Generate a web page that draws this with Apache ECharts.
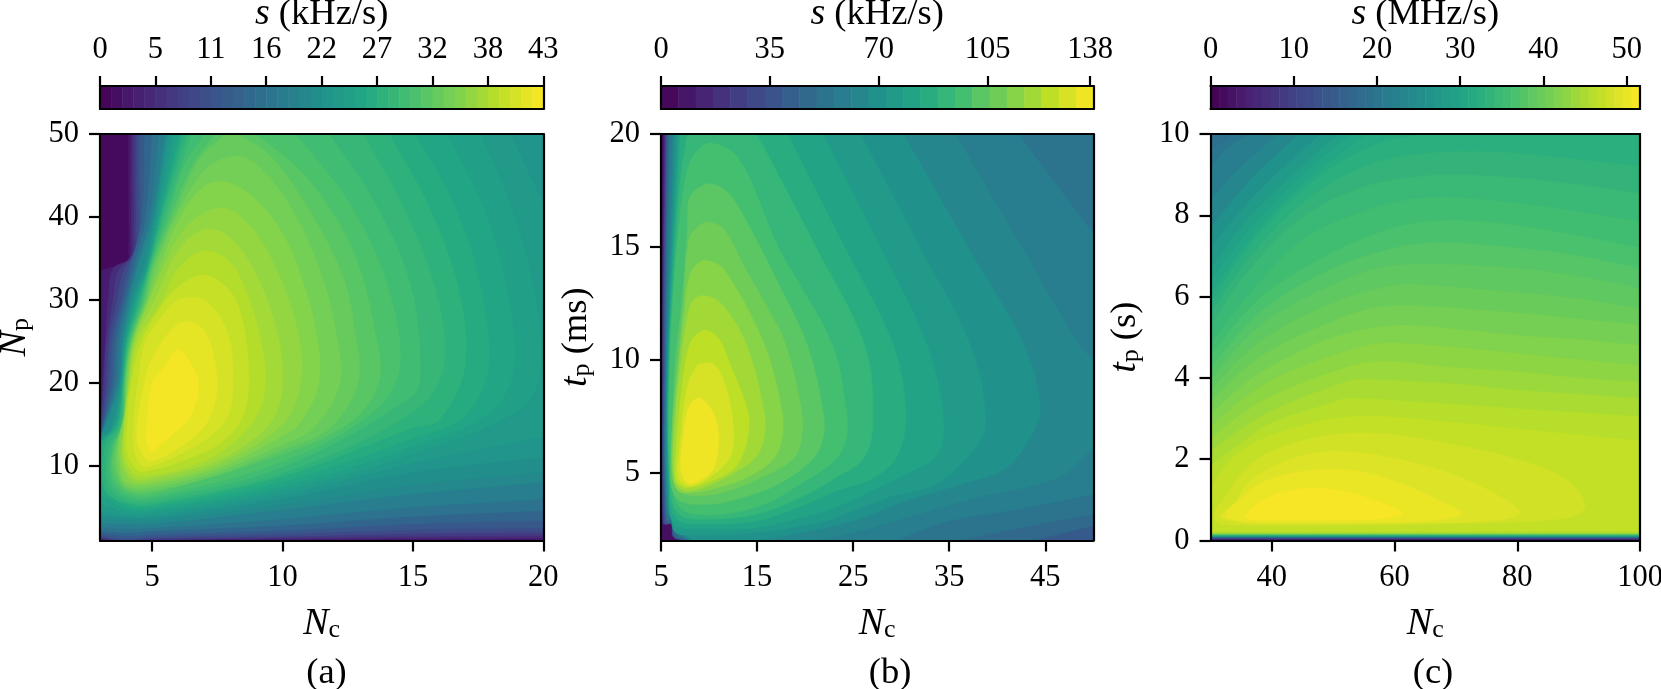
<!DOCTYPE html>
<html><head><meta charset="utf-8">
<style>html,body{margin:0;padding:0;background:#fff}#c{width:1661px;height:689px}</style>
<script src="https://cdn.jsdelivr.net/npm/echarts@6/dist/echarts.min.js"></script>
</head><body><div id="c"></div>
<script>
const viridisStops=['#440154','#482475','#414487','#355f8d','#2a788e','#21918c','#22a884','#44bf70','#7ad151','#bddf26','#fde725'];

const maxA=43, maxB=139, maxC=51.6;
const cbarBandsA=40, cbarBandsB=25, cbarBandsC=50;
const cbarTicksA=[0,5.375,10.75,16.125,21.5,26.875,32.25,37.625,43];
const cbarLabelsA=['0','5','11','16','22','27','32','38','43'];
const cbarTicksB=[0,35,70,105,138];
const cbarLabelsB=['0','35','70','105','138'];
const cbarTicksC=[0,10,20,30,40,50];
const cbarLabelsC=['0','10','20','30','40','50'];
const xTicksA=[5,10,15,20], yTicksA=[10,20,30,40,50];
const xTicksB=[5,15,25,35,45], yTicksB=[5,10,15,20];
const xTicksC=[40,60,80,100], yTicksC=[0,2,4,6,8,10];

// Panel (a): s (kHz/s) iso-contours; each entry is the outline of the region s >= level, [Nc, Np]
const levelsA=[2.15,4.3,6.45,8.6,10.75,12.9,15.05,17.2,19.35,20.4,21.5,22.6,23.65,24.7,25.8,26.9,28,29,30.1,31.2,32.25,33.3,34.4,35.5,36.5,37.6,38.7,39.8,40.9,41.9];
const contoursA=[
[[4.1,50],[20,50],[20,1.1],[15,1.1],[10,1.05],[3,1],[3,33.5],[3.6,34.1],[4.05,34.6],[4.1,36],[4.1,42]],
[[4.2,50],[20,50],[20,1.3],[15,1.25],[10,1.15],[5,1.05],[3.3,1],[3,1.15],[3,13.8],[3.1,20],[3.2,25],[3.3,30],[3.5,33.8],[4.15,35],[4.2,37],[4.2,43]],
[[4.3,50],[20,50],[20,1.6],[15,1.5],[10,1.3],[5,1.1],[3.5,1],[3,1.3],[3,13.7],[3.15,20],[3.25,25],[3.5,30],[3.7,33.5],[4.25,35.5],[4.3,38],[4.3,44]],
[[4.4,50],[20,50],[20,2],[15,1.85],[10,1.5],[5,1.2],[3.8,1],[3,1.4],[3,13.6],[3.25,20],[3.35,25],[3.65,30],[3.9,33.5],[4.35,36],[4.4,39],[4.4,44]],
[[4.5,50],[20,50],[20,2.5],[15,2.3],[10,1.8],[5,1.4],[4,1.1],[3,1.6],[3,13.5],[3.35,20],[3.45,25],[3.8,30],[4.1,34],[4.5,38],[4.5,44]],
[[4.7,50],[20,50],[20,3.4],[15,3],[10,2.2],[5,1.7],[4,1.5],[3,1.9],[3,13.4],[3.45,20],[3.55,25],[3.9,30],[4.2,34],[4.6,40]],
[[5,50],[20,50],[20,4.6],[15,3.9],[10,2.8],[5,2.1],[4,1.9],[3,2.1],[3,13.3],[3.55,20],[3.65,25],[4,30],[4.3,34],[4.75,40]],
[[5.25,50],[20,50],[20,6],[15,5],[10,3.6],[5,2.5],[4,2.4],[3,2.6],[3,13.2],[3.65,20],[3.75,25],[4.07,30],[4.4,34],[4.9,40]],
[[5.5,50],[20,50],[20,8],[15,6.6],[10,4.7],[5,3],[4,3],[3,3.1],[3,13.1],[3.72,20],[3.85,25],[4.15,30],[4.45,34],[5,40]],
[[5.55,50],[20,50],[20,9.2],[15,7.7],[10,5.3],[5,3.35],[4,3.4],[3,3.6],[3,13],[3.75,20],[3.87,25],[4.2,30],[4.6,34],[5.05,40]],
[[5.6,50],[20,50],[20,11],[15,9.2],[10,6],[5,3.7],[4,3.7],[3,4],[3,13],[3.4,14.5],[3.78,20],[3.9,25],[4.25,30],[4.7,34],[5.1,40]],
[[5.7,50],[18.75,50],[20,41.7],[20,13.5],[15,10.3],[10,6.5],[5,4],[4,4],[3,4.6],[3,13],[3.5,15],[3.8,20],[3.93,25],[4.3,30],[4.75,34],[5.15,40]],
[[5.85,50],[17.6,50],[18.8,41],[19.6,32],[19.9,22],[19.2,17],[15,11.4],[10,7],[5,4.4],[4,4.4],[3,5.4],[3,12.8],[3.55,15],[3.82,20],[3.96,25],[4.35,30],[4.8,34],[5.2,40]],
[[6,50],[16.3,50],[17.6,42],[18.5,33],[18.9,22],[18,16.5],[15,12.3],[10,7.5],[5,4.7],[4,4.8],[3,6.5],[3,12.5],[3.6,15],[3.85,20],[3.99,25],[4.4,30],[4.82,34],[5.25,40]],
[[6.1,50],[15.1,50],[16.5,42],[17.5,33],[17.9,22],[17,16],[15,13.3],[10,8.1],[5,5],[4,5.2],[3.05,7.5],[3.05,12.5],[3.65,15],[3.87,20],[4.02,25],[4.45,30],[4.85,34],[5.3,40]],
[[6.2,50],[14.1,50],[15.5,42],[16.7,32],[17,22],[16,15.5],[15,14.6],[10,8.7],[5,5.3],[4,5.5],[3.2,7],[3.2,12.5],[3.7,15],[3.88,20],[4.05,25],[4.5,30],[4.87,34],[5.35,40]],
[[6.35,50],[13.1,50],[14.5,42],[15.8,32],[16.2,22],[15,16.5],[10,9.1],[5,5.6],[4,5.8],[3.3,7.5],[3.3,12],[3.75,15],[3.9,20],[4.08,25],[4.55,30],[4.9,34],[5.4,40]],
[[6.5,50],[11.8,50],[13.5,42],[14.9,32],[15.3,22],[15,18.5],[10,9.8],[5,6],[4,6.2],[3.4,8],[3.4,12],[3.8,15],[3.92,20],[4.11,25],[4.6,30],[4.92,34],[5.5,40]],
[[7,50],[10.5,50],[12.5,42],[14,32],[14.5,22],[13.5,16.5],[10,10.5],[5,6.3],[4,6.6],[3.47,8.5],[3.47,12],[3.85,15],[3.94,20],[4.14,25],[4.65,30],[4.95,34],[5.6,40],[6.2,46]],
[[7.4,50],[9,50],[11,44.5],[12.7,36],[13.5,27],[13.7,20],[12.5,15],[10,11.4],[5,6.7],[4,7],[3.53,9],[3.53,12],[3.9,15.5],[3.96,20],[4.17,25],[4.7,30],[5,34],[5.7,40],[6.5,46]],
[[7.8,50],[8.3,50],[9.5,47.5],[11,41],[12.3,33],[12.8,26],[12.9,20],[11.8,14.5],[10,11.9],[7.5,8.9],[5,7],[4,7.3],[3.6,9.5],[3.6,12],[3.92,16],[3.98,20],[4.2,25],[4.75,30],[5.05,34],[5.8,40],[6.8,47]],
[[7.9,47.2],[8.7,47],[9.7,44],[10.7,39],[11.5,33],[12,27],[12.2,20],[11.2,14.6],[10,12.6],[7.5,9.3],[5,7.4],[4,7.6],[3.67,10],[3.67,12.5],[3.95,16.5],[4,20],[4.23,25],[4.8,30],[5.15,34],[5.9,40],[7,45.6]],
[[7.9,44.2],[9,42],[10,38],[10.7,33],[11.3,26],[11.4,20],[10.7,15.3],[10,13.6],[7.5,9.7],[5,7.8],[4,8],[3.75,10.5],[3.75,13],[4,17],[4.05,20],[4.27,25],[4.85,30],[5.3,34],[6,39.5],[7,43.7]],
[[7.9,41],[9,38],[10,32],[10.6,26],[10.7,20],[10,15],[7.5,10.2],[5,8.1],[4.2,8.2],[3.82,10.5],[3.85,13.5],[4.05,18],[4.1,20],[4.3,25],[4.9,30],[5.5,34.5],[6.1,38],[7,40.5]],
[[7,38.5],[8,37.5],[9,33],[9.8,26],[10,20],[9.7,16],[9,13.5],[7.5,10.6],[5,8.5],[4.3,8.5],[3.9,10.5],[3.9,14],[4.1,20],[4.35,25],[5.1,30],[6,36]],
[[7,35.9],[8,34.5],[8.6,31],[9.1,26],[9.35,20],[8.9,15.5],[7.5,11.4],[6,9.5],[5,8.9],[4.4,8.9],[3.95,11],[3.95,15],[4.15,20],[4.45,25],[5.4,30],[6,33.8]],
[[6,31.6],[7,33],[8,31],[8.5,27],[8.7,20],[8.4,15.5],[7.5,12.5],[6,10.4],[5,9.5],[4.5,9.4],[4.05,11.5],[4.05,15],[4.2,20],[4.6,25],[5.3,29]],
[[6,30],[7,30],[7.9,26],[8.1,20],[7.9,16],[7.2,13.5],[6,11.3],[5,10],[4.6,10],[4.3,12],[4.3,16],[4.5,21],[4.75,25],[5.5,28.5]],
[[6.05,27.2],[7,26.3],[7.5,20],[7.2,15.8],[6.5,13.2],[5,10.6],[4.55,11.8],[4.4,14.2],[4.7,20],[5,23]],
[[6,24],[6.7,21],[6.75,18.5],[6.4,15.6],[6,14.4],[5.3,12.5],[5,11.6],[4.8,12.8],[4.8,15],[5,20],[5.5,22]]
];

// Panel (b): s (kHz/s) contours, [Nc, tp in ms]
const levelsB=[11.1,22.2,33.4,44.5,50,55.6,61.2,66.7,72.3,77.8,83.4,89,94.5,100.1,105.6,111.2,116.8,122.3,127.9,133.4];
const contoursB=[
[[5.3,20],[50,20],[50,2],[7,2],[6.2,2.3],[6.05,2.75],[5.15,2.75],[5.1,10]],
[[5.45,20],[50,20],[50,2],[7.3,2],[6.25,2.2],[6.1,2.72],[5.25,2.75],[5.2,10]],
[[5.55,20],[50,20],[50,2],[7.5,2],[6.3,2.15],[6.15,2.7],[5.4,2.8],[5.3,10]],
[[5.7,20],[50,20],[50,2.65],[43.7,2],[7.7,2],[6.4,2.2],[6.2,2.7],[5.5,2.9],[5.4,10]],
[[5.8,20],[50,20],[50,3.16],[42.2,2.54],[36,2],[7.8,2],[6.5,2.3],[6.3,2.8],[5.55,3],[5.45,10]],
[[6,20],[42.2,20],[50,15.6],[50,4.04],[42.2,3.38],[34.4,2.79],[29.5,2],[7.9,2],[6.6,2.4],[6.4,2.9],[5.6,3.2],[5.5,10]],
[[6.2,20],[35.67,20],[42.56,15],[48.5,10.7],[50,10],[50,6.1],[46.4,4.78],[38,3.9],[30.5,3],[23,2.13],[19.4,2],[8.1,2],[6.8,2.4],[6.5,3],[5.65,3.4],[5.6,10]],
[[6.4,20],[30.26,20],[36.97,15],[42.74,10.7],[44.5,8],[43.9,6.91],[41,5.22],[36.3,4.49],[30.5,3.75],[25,2.87],[17.7,2.18],[14.5,2],[8.2,2],[7,2.5],[6.6,3.2],[5.7,3.6],[5.65,10]],
[[6.6,20],[25.79,20],[31.94,15],[37.16,10.7],[38.8,7.13],[37,5.74],[33.6,4.49],[28.7,3.9],[23.2,3.01],[19.5,2.63],[15,2.35],[9.4,2.22],[6.4,2.4],[6.2,3.6],[5.75,4],[5.7,10]],
[[6.8,20],[21.88,20],[27.84,15],[32.68,10.7],[34.4,7.5],[33.8,5.81],[30.5,4.93],[27,4.2],[23.2,3.46],[19.5,3],[15,2.57],[10.1,2.5],[6.4,2.72],[5.8,4.2],[5.75,10]],
[[7,20],[18.15,20],[24.11,15],[29.14,10.7],[30.5,7.5],[29.5,5.66],[27,4.75],[23.2,4.19],[19.5,3.5],[15,2.87],[10.1,2.72],[6.6,2.94],[5.85,4.4],[5.8,10]],
[[7.72,20],[15,20],[21.13,15],[26.16,10.7],[27.1,7.4],[26.16,5.66],[23.2,4.78],[19.5,3.9],[15,3.16],[10.1,2.94],[6.8,3.16],[5.9,4.6],[5.85,10],[6.5,15],[7,18]],
[[8.84,19.3],[10.33,19.6],[13.12,18.9],[17.22,15],[22.81,10.7],[24.3,7.72],[24.3,6.54],[23.2,5.59],[19.46,4.49],[15.73,3.6],[11.26,3.16],[7.16,3.38],[6,4.8],[5.95,10],[6.23,12.6],[6.79,15.6],[7.72,18.4]],
[[8.84,17.6],[10.14,17.8],[12,17.4],[14.2,15.9],[17.2,13.4],[20.2,10.7],[21.88,7.72],[21.88,6.54],[20.76,5.59],[17.2,4.49],[13.5,3.9],[10.14,3.6],[6.97,3.75],[6.04,4.49],[6.1,6],[6.5,10],[7.16,12.6],[7.72,15.6],[7.9,17.1]],
[[8.84,15.9],[10,16.1],[11.63,15.74],[13.5,14.26],[15.7,12.6],[17.97,10.7],[19.64,7.72],[19.64,6.54],[18.7,5.59],[15.36,4.78],[12,4.19],[9,3.97],[7.16,4.12],[6.2,4.78],[6.15,7],[6.75,10],[7.35,12.6],[7.9,15.3]],
[[8.65,14.2],[9.77,14.4],[11.63,13.96],[15.73,10.7],[17.6,7.72],[17.6,6.54],[16.66,5.59],[13.87,4.78],[10.89,4.34],[8.28,4.12],[6.8,4.19],[6.23,4.93],[6.3,7],[6.9,10],[7.4,12],[7.9,13.6]],
[[8.28,12.6],[9.4,12.85],[11.26,12.5],[13.87,10.7],[15.73,7.72],[15.73,6.54],[14.8,5.66],[12.38,4.93],[9.77,4.4],[7.53,4.19],[6.42,4.63],[6.42,7],[7.1,10],[7.72,11.8]],
[[8.1,10.8],[9.4,11.3],[10.9,11],[12,10],[14.05,7.72],[14.05,6.6],[13.3,5.6],[12.4,5.1],[9.8,4.55],[7.5,4.35],[6.55,4.7],[6.6,6.2],[7.3,9.2]],
[[8.7,9.7],[9.4,9.85],[10.5,9.8],[11.6,9],[12.45,7.4],[12.3,5.8],[10.1,4.8],[7.9,4.4],[6.8,4.8],[6.95,6.2],[7.7,8.75]],
[[9,8.3],[10.5,7.6],[11,6.5],[10.5,5.2],[9.2,4.7],[7.9,4.5],[7.1,5.05],[7.2,6.2],[7.9,7.9]]
];

// Panel (c): s (MHz/s) contours, [Nc, tp in s]
const levelsC=[5.2,10.3,15.5,18.6,19.6,20.6,22.7,24.8,26.8,28.9,29.9,31,32,33,34,35.1,36.1,37.2,38.2,39.2,40.2,41.3,42.3,43.3,44.4,45.4,46.4,47.5,48.5,49.5,50.6];
const contoursC=[
[[30,10],[100,10],[100,.03],[30,.03]],
[[30,10],[100,10],[100,.05],[30,.05]],
[[30,10],[100,10],[100,.07],[30,.07]],
[[30,10],[100,10],[100,.08],[30,.08]],
[[33.5,10],[100,10],[100,.085],[30,.085],[30,9.6]],
[[36.5,10],[100,10],[100,.09],[30,.09],[30,9.2],[33,9.7]],
[[41,10],[100,10],[100,.095],[30,.095],[30,8.4],[35,9.2]],
[[44.5,10],[100,10],[100,.1],[30,.1],[30,7.7],[36,8.8],[40,9.4]],
[[48,10],[100,10],[100,.105],[30,.105],[30,7.2],[36,8.3],[42,9.2]],
[[51,10],[100,10],[100,.11],[30,.11],[30,6.7],[36,7.9],[42,8.8],[47,9.5]],
[[53,10],[100,10],[100,.115],[30,.115],[30,6.4],[36,7.6],[42,8.55],[48,9.4]],
[[55.5,10],[100,10],[100,.12],[30,.12],[30,6.1],[38,7.7],[46,8.9],[51,9.5]],
[[64,10],[100,10],[100,.125],[30,.125],[30,5.85],[36,7.2],[44,8.5],[52,9.4],[58,9.8]],
[[30,5.6],[36,6.9],[45,8.3],[55,9.2],[65,9.52],[75,9.57],[85,9.45],[100,9.2],[100,.13],[30,.13]],
[[30,5.3],[36,6.6],[45,7.95],[55,8.7],[65,8.97],[72,8.99],[85,8.85],[100,8.54],[100,.135],[30,.135]],
[[30,4.85],[36,6],[45,7.4],[55,8.1],[63,8.4],[70,8.44],[85,8.2],[100,7.85],[100,.14],[30,.14]],
[[30,4.55],[35,5.5],[40,6.2],[50,7.1],[60,7.7],[68.9,7.88],[80,7.75],[90,7.5],[100,7.2],[100,.145],[30,.145]],
[[30,4.25],[35,5.15],[40,5.85],[50,6.7],[60,7.2],[67,7.33],[80,7.2],[90,7],[100,6.7],[100,.15],[30,.15]],
[[30,3.95],[35,4.85],[40,5.5],[50,6.3],[58,6.72],[65,6.81],[80,6.7],[90,6.5],[100,6.2],[100,.155],[30,.155]],
[[30,3.7],[35,4.5],[40,5.1],[50,5.85],[58,6.22],[63,6.3],[80,6.1],[90,5.95],[100,5.7],[100,.16],[30,.16]],
[[30,3.4],[35,4.15],[40,4.7],[50,5.4],[56,5.7],[62,5.78],[80,5.6],[90,5.45],[100,5.3],[100,.165],[30,.165]],
[[30,3.1],[35,3.8],[40,4.3],[50,5],[60,5.29],[70,5.2],[80,5.05],[90,4.95],[100,4.8],[100,.17],[30,.17]],
[[30,2.8],[35,3.45],[40,3.95],[50,4.55],[58,4.85],[70,4.75],[80,4.6],[90,4.45],[100,4.3],[100,.175],[30,.175]],
[[30,2.5],[35,3.1],[40,3.55],[50,4.15],[57,4.4],[70,4.25],[80,4.15],[90,4],[100,3.9],[100,.18],[30,.18]],
[[30,2.2],[35,2.75],[40,3.2],[50,3.8],[54,3.96],[70,3.85],[80,3.7],[90,3.6],[100,3.5],[100,.19],[30,.19]],
[[30,1.85],[35,2.4],[40,2.9],[50,3.4],[52,3.5],[65,3.4],[80,3.25],[90,3.15],[100,3.05],[100,.2],[30,.2]],
[[30,1.3],[33,1.95],[36,2.3],[40,2.6],[50,3],[58,3.05],[70,2.9],[80,2.75],[90,2.6],[100,2.45],[100,.23],[30,.22]],
[[30.6,.7],[32,1],[36,1.8],[40,2.2],[46,2.5],[52,2.64],[60,2.6],[70,2.35],[80,2],[88,1.5],[91.1,.85],[88,.55],[70,.42],[50,.38],[36,.37],[31,.45]],
[[31.5,.6],[34,.95],[36,1.4],[40,1.8],[44,2.05],[49,2.19],[55,2.15],[62,1.95],[70,1.6],[77,1.1],[80.4,.7],[77,.5],[60,.42],[45,.4],[36,.42],[33,.5]],
[[32.4,.6],[35,1.05],[38,1.4],[43,1.65],[49,1.76],[55,1.68],[62,1.35],[67,1],[70.9,.67],[67,.5],[55,.45],[43,.45],[36,.47]],
[[35.6,.6],[38,.95],[42,1.2],[47,1.29],[52,1.2],[57,.98],[61.3,.67],[57,.52],[48,.5],[40,.5],[36.3,.52]]
];

function hex(c){return [1,3,5].map(i=>parseInt(c.substr(i,2),16));}
function viridis(f){
  f=Math.max(0,Math.min(1,f));
  const p=f*(viridisStops.length-1), i=Math.min(viridisStops.length-2,Math.floor(p)), t=p-i;
  const a=hex(viridisStops[i]), b=hex(viridisStops[i+1]);
  return 'rgb('+a.map((v,k)=>Math.round(v+(b[k]-v)*t)).join(',')+')';
}

const FONT='"Liberation Serif"', TICK=30.5, LABEL=36.5, LW=2.2;
const black='#000';
const rich={
  i:{fontFamily:FONT,fontStyle:'italic',fontSize:38,color:black},
  r:{fontFamily:FONT,fontSize:LABEL,color:black},
  sub:{fontFamily:FONT,fontSize:26,color:black,padding:[12,0,0,0]}
};
const panels=[
 {left:100,w:443.3,levels:levelsA,contours:contoursA,max:maxA,bands:cbarBandsA,cb:[cbarTicksA,cbarLabelsA],
  x:[3,20,xTicksA],y:[1,50,yTicksA],cbTitle:'{i|s}{r| (kHz/s)}',yName:'{i|N}{sub|p}',cap:'(a)',capX:321.5},
 {left:661,w:432.3,levels:levelsB,contours:contoursB,max:maxB,bands:cbarBandsB,cb:[cbarTicksB,cbarLabelsB],
  x:[5,50,xTicksB],y:[2,20,yTicksB],cbTitle:'{i|s}{r| (kHz/s)}',yName:'{i|t}{sub|p}{r| (ms)}',cap:'(b)',capX:885},
 {left:1210.5,w:429.5,levels:levelsC,contours:contoursC,max:maxC,bands:cbarBandsC,cb:[cbarTicksC,cbarLabelsC],
  x:[30,100,xTicksC],y:[0,10,yTicksC],cbTitle:'{i|s}{r| (MHz/s)}',yName:'{i|t}{sub|p}{r| (s)}',cap:'(c)',capX:1428}
];
const TOP=134,H=406.5,CBT=86,CBH=23,SMOOTH=0.35;
const grid=[],xAxis=[],yAxis=[],series=[],title=[];
const lineStyle={color:black,width:LW};
panels.forEach((p,n)=>{
  const g0=grid.length;
  grid.push({left:p.left,top:TOP,width:p.w,height:H,outerBoundsMode:'none'});
  grid.push({left:p.left,top:CBT,width:p.w,height:CBH,outerBoundsMode:'none'});
  const ai=xAxis.length;
  xAxis.push({type:'value',gridIndex:g0,min:p.x[0],max:p.x[1],z:10,position:'bottom',splitLine:{show:false},
    axisLine:{show:true,onZero:false,lineStyle},
    axisTick:{show:true,length:11,lineStyle:{color:black,width:LW},customValues:p.x[2]},
    axisLabel:{show:true,fontFamily:FONT,fontSize:TICK,color:black,margin:22,customValues:p.x[2],formatter:v=>String(v)},
    name:'{i|N}{sub|c}',nameLocation:'middle',nameGap:65,nameTextStyle:{rich}});
  yAxis.push({type:'value',gridIndex:g0,min:p.y[0],max:p.y[1],z:10,position:'left',splitLine:{show:false},
    axisLine:{show:true,onZero:false,lineStyle},
    axisTick:{show:true,length:11,lineStyle:{color:black,width:LW},customValues:p.y[2]},
    axisLabel:{show:true,fontFamily:FONT,fontSize:TICK,color:black,margin:21,customValues:p.y[2],formatter:v=>String(v)},
    name:p.yName,nameLocation:'middle',nameGap:66,nameRotate:90,nameTextStyle:{rich}});
  xAxis.push({type:'value',gridIndex:g0,min:p.x[0],max:p.x[1],z:10,position:'top',splitLine:{show:false},
    axisLine:{show:true,onZero:false,lineStyle},axisTick:{show:false},axisLabel:{show:false}});
  yAxis.push({type:'value',gridIndex:g0,min:p.y[0],max:p.y[1],z:10,position:'right',splitLine:{show:false},
    axisLine:{show:true,onZero:false,lineStyle},axisTick:{show:false},axisLabel:{show:false}});
  xAxis.push({type:'value',gridIndex:g0+1,min:0,max:p.max,z:10,position:'top',splitLine:{show:false},
    axisLine:{show:true,onZero:false,lineStyle},
    axisTick:{show:true,length:10,lineStyle:{color:black,width:LW},customValues:p.cb[0]},
    axisLabel:{show:true,fontFamily:FONT,fontSize:TICK,color:black,margin:21,customValues:p.cb[0],
      formatter:v=>{const i=p.cb[0].indexOf(v);return i<0?'':p.cb[1][i];}},
    name:p.cbTitle,nameLocation:'middle',nameGap:52,nameTextStyle:{rich}});
  yAxis.push({type:'value',gridIndex:g0+1,min:0,max:1,z:10,position:'left',splitLine:{show:false},
    axisLine:{show:true,onZero:false,lineStyle},axisTick:{show:false},axisLabel:{show:false}});
  xAxis.push({type:'value',gridIndex:g0+1,min:0,max:p.max,z:10,position:'bottom',splitLine:{show:false},
    axisLine:{show:true,onZero:false,lineStyle},axisTick:{show:false},axisLabel:{show:false}});
  yAxis.push({type:'value',gridIndex:g0+1,min:0,max:1,z:10,position:'right',splitLine:{show:false},
    axisLine:{show:true,onZero:false,lineStyle},axisTick:{show:false},axisLabel:{show:false}});

  const lv=[0].concat(p.levels), tops=p.levels.concat([p.max]);
  const xr=[p.x[0],p.x[1]], yr=[p.y[0],p.y[1]];
  const outlines=[[[xr[0],yr[1]],[xr[1],yr[1]],[xr[1],yr[0]],[xr[0],yr[0]]]].concat(p.contours);
  // a vertex on the panel edge is doubled so the curve smoothing keeps a sharp turn there
  const onEdge=q=>q[0]===xr[0]||q[0]===xr[1]||q[1]===yr[0]||q[1]===yr[1];
  series.push({type:'custom',coordinateSystem:'cartesian2d',xAxisIndex:ai,yAxisIndex:ai,clip:true,silent:true,animation:false,z:2,
    data:outlines.map((o,i)=>[xr[0],yr[0],i]),encode:{x:0,y:1},
    renderItem:(params,api)=>{
      const i=params.dataIndex;
      const c=viridis((lv[i]+tops[i])/2/p.max);
      const pts=[];
      outlines[i].forEach(q=>{const d=api.coord(q);pts.push(d);if(onEdge(q))pts.push(d.slice());});
      return {type:'polygon',shape:{points:pts,smooth:SMOOTH},style:{fill:c,stroke:c,lineWidth:.4}};
    }});
  const edges=[];for(let b=0;b<p.bands;b++)edges.push([b*p.max/p.bands,(b+1)*p.max/p.bands,1]);
  series.push({type:'custom',coordinateSystem:'cartesian2d',xAxisIndex:ai+2,yAxisIndex:ai+2,clip:true,silent:true,animation:false,z:2,
    data:edges,encode:{x:[0,1],y:2},
    renderItem:(params,api)=>{
      const a=api.coord([api.value(0),1]),b=api.coord([api.value(1),0]);
      const c=viridis((api.value(0)+api.value(1))/2/p.max);
      return {type:'rect',shape:{x:a[0],y:a[1],width:b[0]-a[0]+.5,height:b[1]-a[1]},style:{fill:c}};
    }});
  title.push({text:p.cap,left:p.capX,top:650,textAlign:'center',textStyle:{fontFamily:FONT,fontSize:LABEL,fontWeight:'normal',color:black}});
});
const chart=echarts.init(document.getElementById('c'),null,{renderer:'canvas',width:1661,height:689});
chart.setOption({backgroundColor:'#fff',animation:false,title,grid,xAxis,yAxis,series});
</script></body></html>
